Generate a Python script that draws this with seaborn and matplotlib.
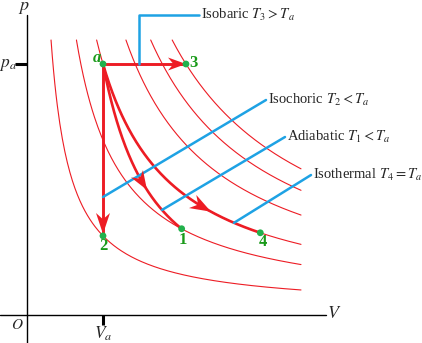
import numpy as np
import pandas as pd
import matplotlib
matplotlib.use("Agg")
import matplotlib.pyplot as plt
import seaborn as sns
from matplotlib.patches import Polygon

# ---------------- data (in units of V_a, p_a, T_a) ----------------
isotherm_T = [0.30, 0.69, 1.00, 1.45, 1.83, 2.16]
state_names = ["a", "3", "2", "1", "4"]
state_V = [1.00, 2.16, 1.00, 2.10, 3.20]
state_p = [1.00, 1.00, 0.30, 0.329, 0.3125]
gamma = 1.5
process_labels = [r"Isobaric $T_3 > T_a$", r"Isochoric $T_2 < T_a$",
                  r"Adiabatic $T_1 < T_a$", r"Isothermal $T_4 = T_a$"]

# ---------------- style ----------------
sns.set_style("white")
plt.rcParams["font.family"] = ["Liberation Serif", "DejaVu Serif"]
plt.rcParams["mathtext.fontset"] = "stix"

RED = "#ed1c24"
BLUE = "#1ea2e4"
GREEN_PT = "#22b14c"
GREEN_TX = "#1a9a1a"

W, H = 422, 343
fig = plt.figure(figsize=(W / 100, H / 100), dpi=100)
ax = fig.add_axes([0, 0, 1, 1])
ax.set_axis_off()

# pixel <-> data mapping (layout only)
X0, Y0, SX, SY = 31.5, 309.5, 71.5, 245.5
def px(x, y):
    return (x - X0) / SX, (Y0 - y) / SY
ax.set_xlim(px(0, 0)[0], px(W, 0)[0])
ax.set_ylim(px(0, H)[1], px(0, 0)[1])

p_top = px(0, 40)[1]
V_end = px(301, 0)[0]

# ---------------- isotherms ----------------
rows = []
for T in isotherm_T:
    V = np.linspace(T / p_top, V_end, 200)
    for v in V:
        rows.append({"T": T, "V": v, "p": T / v})
iso = pd.DataFrame(rows)
sns.lineplot(data=iso, x="V", y="p", units="T", estimator=None, sort=False,
             color=RED, lw=0.8, ax=ax, legend=False)

Va, pa = state_V[0], state_p[0]
# ---------------- processes ----------------
ax.plot([Va, state_V[1]], [pa, state_p[1]], color=RED, lw=2.1, solid_capstyle="butt")
ax.plot([Va, state_V[2]], [pa, state_p[2]], color=RED, lw=2.1, solid_capstyle="butt")
Vad = np.linspace(Va, state_V[3], 200)
pad = pa * (Va / Vad) ** gamma
ax.plot(Vad, pad, color=RED, lw=1.9)
Vis = np.linspace(Va, state_V[4], 200)
pis = pa * Va / Vis
ax.plot(Vis, pis, color=RED, lw=1.9)

def to_disp(pt):
    return ax.transData.transform(pt)

def stealth(tip, back, length, halfw, notch=0.3):
    t = to_disp(tip); b = to_disp(back)
    d = (t - b) / np.linalg.norm(t - b)
    n = np.array([-d[1], d[0]])
    base = t - d * length
    pts = [t, base + n * halfw, t - d * length * (1 - notch), base - n * halfw]
    pts = ax.transData.inverted().transform(np.array(pts))
    ax.add_patch(Polygon(pts, closed=True, color=RED, lw=0, zorder=4))

stealth(px(186, 64), px(170, 64), 18, 6.5)
stealth(px(103, 234), px(103, 210), 21, 7)
Vt = px(147, 0)[0]
stealth((Vt, pa * (Va / Vt) ** gamma), (Vt - 0.05, pa * (Va / (Vt - 0.05)) ** gamma), 19, 7)
Vt = px(211, 0)[0]
stealth((Vt, pa * Va / Vt), (Vt - 0.05, pa * Va / (Vt - 0.05)), 21, 7.5)

# ---------------- axes ----------------
ax_y = px(0, 315)[1]
ax_x = px(27, 0)[0]
ax.plot([px(0, 0)[0], px(326, 0)[0]], [ax_y, ax_y], color="black", lw=1.0)
ax.plot([ax_x, ax_x], [px(0, 15)[1], px(0, H)[1]], color="black", lw=1.0)
ax.plot([px(15, 0)[0], ax_x], [pa, pa], color="black", lw=2.2, solid_capstyle="butt")
ax.plot([Va, Va], [ax_y, px(0, 325)[1]], color="black", lw=2.2, solid_capstyle="butt")

ax.text(*px(24, 8), r"$p$", fontsize=13, ha="center", va="center")
ax.text(*px(334, 314), r"$V$", fontsize=13, ha="center", va="center")
ax.text(*px(17, 325), r"$O$", fontsize=11, ha="center", va="center")
ax.text(*px(8, 65), r"$p_a$", fontsize=12.5, ha="center", va="center")
ax.text(*px(103, 334), r"$V_a$", fontsize=12.5, ha="center", va="center")

# ---------------- callouts ----------------
bx = px(139, 0)[0]
ax.plot([bx, bx, px(199, 0)[0]], [pa, px(0, 15)[1], px(0, 15)[1]], color=BLUE, lw=1.8)
ax.text(*px(201, 15), process_labels[0], fontsize=10.5, ha="left", va="center")

ax.plot([Va, px(266, 0)[0]], [px(0, 197)[1], px(0, 100)[1]], color=BLUE, lw=1.8)
ax.text(*px(268, 100), process_labels[1], fontsize=10.5, ha="left", va="center")

Vc = px(162, 0)[0]
ax.plot([Vc, px(285, 0)[0]], [pa * (Va / Vc) ** gamma, px(0, 137)[1]], color=BLUE, lw=1.8)
ax.text(*px(287, 137), process_labels[2], fontsize=10.5, ha="left", va="center")

Vc = px(234, 0)[0]
ax.plot([Vc, px(311, 0)[0]], [pa * Va / Vc, px(0, 175)[1]], color=BLUE, lw=1.8)
ax.text(*px(313, 175), process_labels[3], fontsize=10.5, ha="left", va="center")

# ---------------- state points ----------------
pts = pd.DataFrame({"V": state_V, "p": state_p, "name": state_names})
sns.scatterplot(data=pts, x="V", y="p", color=GREEN_PT, s=24, edgecolor="none",
                ax=ax, zorder=5, legend=False)
offsets = {"a": (-6, -6), "3": (8, -1), "2": (0, 10), "1": (1, 11), "4": (3, 9)}
for n, v, p in zip(state_names, state_V, state_p):
    dx, dy = offsets[n]
    ax.annotate(n, (v, p), xytext=(dx, -dy), textcoords="offset pixels",
                color=GREEN_TX, fontsize=12, fontweight="bold",
                fontstyle="italic" if n == "a" else "normal",
                ha="center", va="center", zorder=6)

ax.set_xlabel(""); ax.set_ylabel("")
fig.savefig("out.png", dpi=100)
